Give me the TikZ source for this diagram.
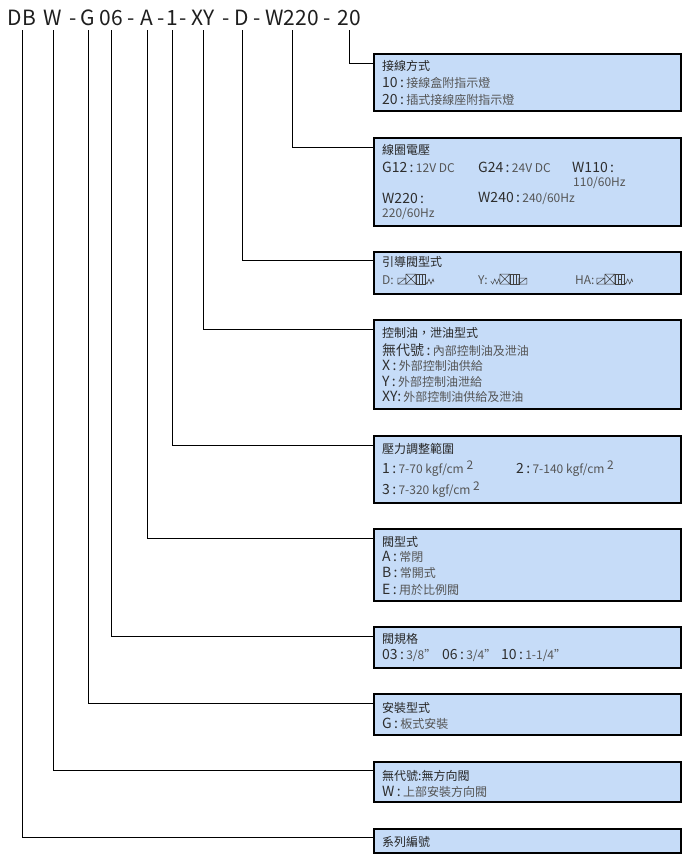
\documentclass[tikz,border=0pt]{standalone}
\usepackage{fontspec}
\setmainfont{Noto Sans CJK TC}
\usetikzlibrary{positioning}
\definecolor{boxblue}{HTML}{C6DCF8}
\definecolor{hdrc}{HTML}{1E1E1E}
\definecolor{codec}{HTML}{2E2E2E}
\definecolor{descc}{HTML}{555555}
\newcommand{\cd}[1]{{\fontsize{14}{14}\selectfont\color{codec}#1}}
\newcommand{\ds}[1]{{\fontsize{12}{12}\selectfont\color{descc}#1}}
\newcommand{\sqr}{\raisebox{4pt}{\fontsize{12}{12}\selectfont 2}}

\begin{document}
\begin{tikzpicture}[x=1pt, y=-1pt,
        code/.style={anchor=base, inner sep=0, text=hdrc, font=\fontsize{21}{21}\selectfont},
        infobox/.style={draw=black, line width=1.2pt, fill=boxblue, anchor=north west,
            minimum width=307pt, inner sep=0, outer sep=0},
        ttl/.style={anchor=west, inner sep=0, text=black!85, font=\fontsize{12}{12}\selectfont},
        row/.style={anchor=west, inner sep=0},
        link/.style={draw=black, line width=1pt},
        sym/.style={draw=black!75, line width=0.5pt},
        sol/.pic={\draw[sym] (0,0) rectangle (8,-6) (0,0) -- (8,-6);},
        xbox/.pic={\draw[sym] (0,0) rectangle (10,-10) (0,0) -- (10,-10) (0,-10) -- (10,0);},
        pbox/.pic={\draw[sym] (0,0) rectangle (9,-10) (3,0) -- (3,-10) (6,0) -- (6,-10);},
        hbox/.pic={\draw[sym] (0,0) rectangle (9,-10) (3,0) -- (3,-10) (6,0) -- (6,-10) (3,-5) -- (6,-5);},
        spr/.pic={\draw[sym] (0,-3) -- (2,0) -- (4,-5) -- (6,0) -- (8,-5) -- (9,-2);},
        valveD/.pic={\pic at (0,0) {sol}; \pic at (8,0) {xbox}; \pic at (18,0) {pbox}; \pic at (27,0) {spr};},
        valveY/.pic={\pic at (0,0) {spr}; \pic at (9,0) {xbox}; \pic at (19,0) {pbox}; \pic at (28,0) {sol};},
        valveHA/.pic={\pic at (0,0) {sol}; \pic at (8,0) {xbox}; \pic at (18,0) {hbox}; \pic at (27,0) {spr};}]
    \useasboundingbox (0,0) rectangle (688,865);

    % model code
    \node[code] (cDB) at (22,25) {DB};
    \node[code] (cW) at (53,25) {W};
    \node[code] (d1) at (73,25) {-};
    \node[code] (cG) at (88,25) {G};
    \node[code] (c06) at (111,25) {06};
    \node[code] (d2) at (131,25) {-};
    \node[code] (cA) at (147,25) {A};
    \node[code] (d3) at (161,25) {-};
    \node[code] (c1) at (172,25) {1};
    \node[code] (d4) at (183,25) {-};
    \node[code] (cXY) at (203,25) {XY};
    \node[code] (d5) at (226,25) {-};
    \node[code] (cD) at (242,25) {D};
    \node[code] (d6) at (257,25) {-};
    \node[code] (cW220) at (292,25) {W220};
    \node[code] (d7) at (327,25) {-};
    \node[code] (c20) at (349,25) {20};

    % boxes
    \node[infobox, minimum height=57pt] (bWire) at (374,54) {};
    \node[infobox, minimum height=88pt] (bCoil) at (374,138) {};
    \node[infobox, minimum height=42pt] (bPilot) at (374,252) {};
    \node[infobox, minimum height=89pt] (bDrain) at (374,320) {};
    \node[infobox, minimum height=67pt] (bPress) at (374,436) {};
    \node[infobox, minimum height=72pt] (bType) at (374,529) {};
    \node[infobox, minimum height=41pt] (bSize) at (374,627) {};
    \node[infobox, minimum height=41pt] (bMount) at (374,694) {};
    \node[infobox, minimum height=40pt] (bDir) at (374,762) {};
    \node[infobox, minimum height=24pt] (bSeries) at (374,829) {};

    % connectors
    \draw[link] ([yshift=-5pt]c20.base) |- ([yshift=-9pt]bWire.north west);
    \draw[link] ([yshift=-5pt]cW220.base) |- ([yshift=-9pt]bCoil.north west);
    \draw[link] ([yshift=-5pt]cD.base) |- ([yshift=-8pt]bPilot.north west);
    \draw[link] ([yshift=-5pt]cXY.base) |- ([yshift=-9pt]bDrain.north west);
    \draw[link] ([yshift=-5pt]c1.base) |- ([yshift=-9pt]bPress.north west);
    \draw[link] ([yshift=-5pt]cA.base) |- ([yshift=-9pt]bType.north west);
    \draw[link] ([yshift=-5pt]c06.base) |- ([yshift=-9pt]bSize.north west);
    \draw[link] ([yshift=-5pt]cG.base) |- ([yshift=-9pt]bMount.north west);
    \draw[link] ([yshift=-5pt]cW.base) |- ([yshift=-8pt]bDir.north west);
    \draw[link] ([yshift=-5pt]cDB.base) |- ([yshift=-8pt]bSeries.north west);

    % box texts
    \node[ttl] (tWire) at (382,66) {接線方式};
    \node[row] (rWire1) at (382,83) {\cd{10\,:\,}\ds{接線盒附指示燈}};
    \node[row] (rWire2) at (382,100) {\cd{20\,:\,}\ds{插式接線座附指示燈}};

    \node[ttl] (tCoil) at (382,150) {線圈電壓};
    \node[row] (rCoil1) at (382,167) {\cd{G12\,:\,}\ds{12V DC}};
    \node[row] (rCoil2) at (478,167) {\cd{G24\,:\,}\ds{24V DC}};
    \node[row] (rCoil3) at (572,167) {\cd{W110\,:}};
    \node[row] (rCoil4) at (573,183) {\ds{110/60Hz}};
    \node[row] (rCoil5) at (382,198) {\cd{W220\,:}};
    \node[row] (rCoil6) at (478,198) {\cd{W240\,:\,}\ds{240/60Hz}};
    \node[row] (rCoil7) at (382,214) {\ds{220/60Hz}};

    \node[ttl] (tPilot) at (382,262) {引導閥型式};
    \node[row] (rPilotD) at (382,280) {\ds{D:}};
    \pic at ([xshift=4pt, yshift=-4pt]rPilotD.east) {valveD};
    \node[row] (rPilotY) at (478,280) {\ds{Y:}};
    \pic at ([xshift=3pt, yshift=-4pt]rPilotY.east) {valveY};
    \node[row] (rPilotHA) at (575,280) {\ds{HA:}};
    \pic at ([xshift=2pt, yshift=-4pt]rPilotHA.east) {valveHA};

    \node[ttl] (tDrain) at (382,333) {控制油，泄油型式};
    \node[row] (rDrain1) at (382,350) {\cd{無代號\,:\,}\ds{內部控制油及泄油}};
    \node[row] (rDrain2) at (382,366) {\cd{X\,:\,}\ds{外部控制油供給}};
    \node[row] (rDrain3) at (382,382) {\cd{Y\,:\,}\ds{外部控制油泄給}};
    \node[row] (rDrain4) at (382,397) {\cd{XY:\,}\ds{外部控制油供給及泄油}};

    \node[ttl] (tPress) at (382,449) {壓力調整範圍};
    \node[row] (rPress1) at (382,469) {\cd{1\,:\,}\ds{7-70 kgf/cm \sqr}};
    \node[row] (rPress2) at (516,469) {\cd{2\,:\,}\ds{7-140 kgf/cm \sqr}};
    \node[row] (rPress3) at (382,490) {\cd{3\,:\,}\ds{7-320 kgf/cm \sqr}};

    \node[ttl] (tType) at (382,542) {閥型式};
    \node[row] (rType1) at (382,557) {\cd{A\,:\,}\ds{常閉}};
    \node[row] (rType2) at (382,573) {\cd{B\,:\,}\ds{常開式}};
    \node[row] (rType3) at (382,590) {\cd{E\,:\,}\ds{用於比例閥}};

    \node[ttl] (tSize) at (382,639) {閥規格};
    \node[row] (rSize1) at (382,655) {\cd{03\,:\,}\ds{3/8"}};
    \node[row] (rSize2) at (442,655) {\cd{06\,:\,}\ds{3/4"}};
    \node[row] (rSize3) at (501,655) {\cd{10\,:\,}\ds{1-1/4"}};

    \node[ttl] (tMount) at (382,708) {安裝型式};
    \node[row] (rMount1) at (382,724) {\cd{G\,:\,}\ds{板式安裝}};

    \node[ttl] (tDir) at (382,776) {無代號:無方向閥};
    \node[row] (rDir1) at (382,792) {\cd{W\,:\,}\ds{上部安裝方向閥}};

    \node[ttl] (tSeries) at (382,842) {系列編號};
\end{tikzpicture}
\end{document}
